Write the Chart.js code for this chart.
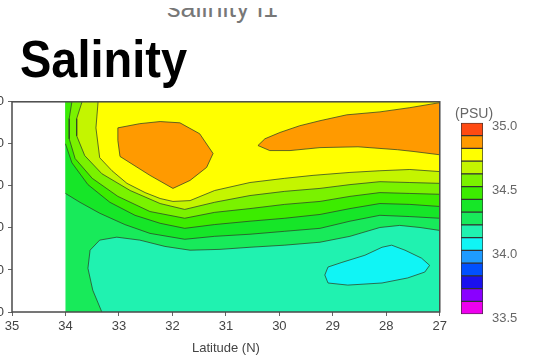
<!DOCTYPE html>
<html><head><meta charset="utf-8">
<script src="https://cdn.jsdelivr.net/npm/chart.js@4/dist/chart.umd.min.js"></script>
<style>
html,body{margin:0;padding:0;background:#fff;width:534px;height:360px;overflow:hidden;position:relative;font-family:"Liberation Sans",Arial,sans-serif}
#main{position:absolute;left:-40px;top:90px}
#cbar{position:absolute;left:456px;top:106px}
#topclip{position:absolute;left:0;top:8px;width:534px;height:16px;overflow:hidden}
#topclip span{position:absolute;left:167px;top:-13px;font-size:27px;line-height:27px;color:#777;white-space:nowrap}
#title{position:absolute;left:20px;top:37.2px;font-size:47px;line-height:47px;font-weight:bold;color:#000;white-space:nowrap;transform-origin:0 39.8px;transform:scaleY(1.12)}
#psu{position:absolute;left:455px;top:105.7px;font-size:14px;line-height:14px;color:#666;white-space:nowrap}
</style></head>
<body>
<div id="topclip"><span>salinity l1</span></div>
<div id="title">Salinity</div>
<canvas id="main" width="490" height="270"></canvas>
<canvas id="cbar" width="78" height="225"></canvas>
<div id="psu">(PSU)</div>
<script>
// ---- axes ----
const latMin = 27, latMax = 35, dataEdgeLat = 34;
const depthMin = 0, depthMax = 500;
const latStep = 1, depthStep = 100;
const xTitle = 'Latitude (N)';

// ---- colour scale (PSU) ----
const cbLevels = [33.5,33.6,33.7,33.8,33.9,34.0,34.1,34.2,34.3,34.4,34.5,34.6,34.7,34.8,34.9,35.0];
const cbColors = ['#ee00ee','#8a00ff','#1a10ee','#0050ff','#1e9bff','#10f5f5','#20f2b0','#18ea5a','#16e628','#3cec00','#7af200','#c4f500','#ffff00','#ff9a00','#ff4a12'];
const cbTickStep = 0.5;

// ---- contour regions [latitude, depth] ----
const region_ge342 = [[34,0],[27,0],[27,500],[34,500]];
const region_lt342 = [[33.32,500],[33.49,448],[33.58,396],[33.54,353],[33.36,329],[33.04,322],[32.61,329],[32.14,344],[31.67,353],[31.11,351],[30.55,346],[29.90,341],[29.24,334],[28.68,320],[28.12,299],[27.75,294],[27.37,299],[27.0,306],[27.0,500]];
const region_lt341 = [[29.15,412],[29.09,393],[28.83,382],[28.40,365],[28.08,346],[27.90,341],[27.65,353],[27.34,372],[27.19,389],[27.28,405],[27.60,419],[28.08,431],[28.72,436],[29.09,431]];
const region_ge343 = [[34,0],[34,218],[33.73,239],[33.36,265],[32.89,292],[32.42,313],[31.77,327],[31.21,320],[30.55,315],[29.90,308],[29.24,301],[28.68,284],[28.12,270],[27.56,273],[27.0,277],[27.0,0]];
const region_ge344 = [[34,0],[34,100],[33.88,145],[33.58,197],[33.17,239],[32.70,270],[32.23,289],[31.77,301],[31.21,292],[30.55,284],[29.90,277],[29.24,268],[28.68,254],[28.12,242],[27.56,244],[27.0,249],[27.0,0]];
const region_ge345 = [[33.88,0],[33.93,40],[33.93,88],[33.82,135],[33.50,182],[33.02,225],[32.42,261],[31.77,277],[31.21,263],[30.55,254],[29.90,244],[29.24,237],[28.68,225],[28.12,216],[27.56,218],[27.0,220],[27.0,0]];
const region_ge346 = [[33.69,0],[33.79,40],[33.79,81],[33.64,128],[33.32,171],[32.79,211],[32.23,242],[31.77,256],[31.21,239],[30.55,223],[29.90,213],[29.24,206],[28.68,197],[28.12,190],[27.56,192],[27.0,194],[27.0,0]];
const region_ge347 = [[33.39,0],[33.43,62],[33.36,133],[33.13,164],[32.85,194],[32.51,216],[32.23,230],[31.99,237],[31.67,235],[31.21,211],[30.55,192],[29.90,182],[29.37,175],[28.68,168],[28.12,164],[27.56,161],[27.0,166],[27.0,0]];
const region_ge348a = [[33.02,62],[32.61,52],[32.23,47],[31.86,50],[31.49,76],[31.24,123],[31.36,156],[31.67,187],[31.99,206],[32.42,175],[32.98,130],[33.02,92]];
const region_ge348b = [[30.40,104],[30.27,88],[29.99,73],[29.62,57],[29.24,45],[28.74,31],[28.12,24],[27.56,14],[27.0,2],[27.0,126],[27.50,118],[27.79,114],[28.53,107],[29.24,109],[29.80,116],[30.18,116]];

// ---- build ----
const lineColor = 'rgba(45,65,40,0.75)';
const EPS = 1e-6;
function onEdge(a, b) {
  const vx = Math.abs(a[0]-b[0]) < EPS && (Math.abs(a[0]-dataEdgeLat) < EPS || Math.abs(a[0]-latMin) < EPS);
  const hz = Math.abs(a[1]-b[1]) < EPS && (Math.abs(a[1]-depthMin) < EPS || Math.abs(a[1]-depthMax) < EPS);
  return vx || hz;
}
function bandColor(lo) { return cbColors[cbLevels.findIndex(v => Math.abs(v-lo) < 1e-9)]; }
const toXY = p => ({x: p[0], y: p[1]});
function fillDataset(pts, lo, order) {
  return {
    data: pts.map(toXY), showLine: true, fill: 'shape', backgroundColor: bandColor(lo),
    borderWidth: 0, pointRadius: 0, pointHoverRadius: 0, tension: 0, order: order
  };
}
// contour lines: the parts of each region outline that are not on the section edges
function contourDatasets(pts) {
  const ring = pts.concat([pts[0]]);
  const runs = []; let cur = null;
  for (let i = 0; i < ring.length - 1; i++) {
    if (onEdge(ring[i], ring[i+1])) { if (cur) { runs.push(cur); cur = null; } continue; }
    if (!cur) cur = [ring[i]];
    cur.push(ring[i+1]);
  }
  if (cur) runs.push(cur);
  return runs.map(r => ({
    data: r.map(toXY), showLine: true, fill: false, borderColor: lineColor, borderWidth: 1,
    pointRadius: 0, pointHoverRadius: 0, tension: 0, order: 0
  }));
}
const regions = [
  [region_ge342, 34.2, 20], [region_lt342, 34.1, 19], [region_lt341, 34.0, 18],
  [region_ge343, 34.3, 17], [region_ge344, 34.4, 16], [region_ge345, 34.5, 15],
  [region_ge346, 34.6, 14], [region_ge347, 34.7, 13], [region_ge348a, 34.8, 12], [region_ge348b, 34.8, 11]
];
const datasets = [];
regions.forEach(([pts, lo, ord]) => datasets.push(fillDataset(pts, lo, ord)));
regions.slice(1).forEach(([pts]) => contourDatasets(pts).forEach(d => datasets.push(d)));

const framePlugin = {
  id: 'frame',
  afterDatasetsDraw(chart) {
    const a = chart.chartArea, ctx = chart.ctx;
    ctx.save(); ctx.strokeStyle = '#4a4a4a'; ctx.lineWidth = 1.5;
    ctx.strokeRect(a.left, a.top, a.right - a.left, a.bottom - a.top);
    ctx.restore();
  }
};

const tickFont = {family: '"Liberation Sans", Arial, sans-serif', size: 13};
new Chart(document.getElementById('main'), {
  type: 'scatter',
  data: {datasets},
  options: {
    responsive: false, animation: false, devicePixelRatio: 1,
    layout: {padding: {top: 10.2, right: 10, bottom: 0, left: 0}},
    plugins: {legend: {display: false}, tooltip: {enabled: false}},
    scales: {
      x: {
        type: 'linear', min: latMin, max: latMax, reverse: true,
        ticks: {stepSize: latStep, color: '#444', font: tickFont, padding: 3, maxRotation: 0},
        grid: {drawOnChartArea: false, tickLength: 4, color: '#666'},
        border: {display: false},
        title: {display: true, text: xTitle, color: '#444', font: {family: '"Liberation Sans", Arial, sans-serif', size: 13}, padding: {top: 0, bottom: 4}},
        afterFit: s => { s.height = 48; }
      },
      y: {
        type: 'linear', min: depthMin, max: depthMax, reverse: true,
        ticks: {stepSize: depthStep, color: '#444', font: tickFont, padding: 4},
        grid: {drawOnChartArea: false, tickLength: 4, color: '#666'},
        border: {display: false},
        afterFit: s => { s.width = 52; }
      }
    }
  },
  plugins: [framePlugin]
});

// ---- colour bar ----
const cbDatasets = cbColors.map((c, i) => ({
  data: [[cbLevels[i], cbLevels[i+1]]],
  backgroundColor: c, borderColor: '#333', borderWidth: 1, borderSkipped: false,
  grouped: false, barPercentage: 1, categoryPercentage: 1
}));
new Chart(document.getElementById('cbar'), {
  type: 'bar',
  data: {labels: ['PSU'], datasets: cbDatasets},
  options: {
    responsive: false, animation: false, devicePixelRatio: 1,
    layout: {padding: {top: 10, right: 0, bottom: 13, left: 5}},
    plugins: {legend: {display: false}, tooltip: {enabled: false}},
    scales: {
      x: {type: 'category', display: false},
      y: {
        type: 'linear', position: 'right', min: cbLevels[0], max: cbLevels[cbLevels.length-1],
        ticks: {stepSize: cbTickStep, color: '#666', font: {family: '"Liberation Sans", Arial, sans-serif', size: 13}, padding: 9, labelOffset: 4, callback: v => Number(v).toFixed(1)},
        grid: {display: false, drawTicks: false}, border: {display: false},
        afterFit: s => { s.width = 51; }
      }
    }
  }
});
</script>
</body></html>
